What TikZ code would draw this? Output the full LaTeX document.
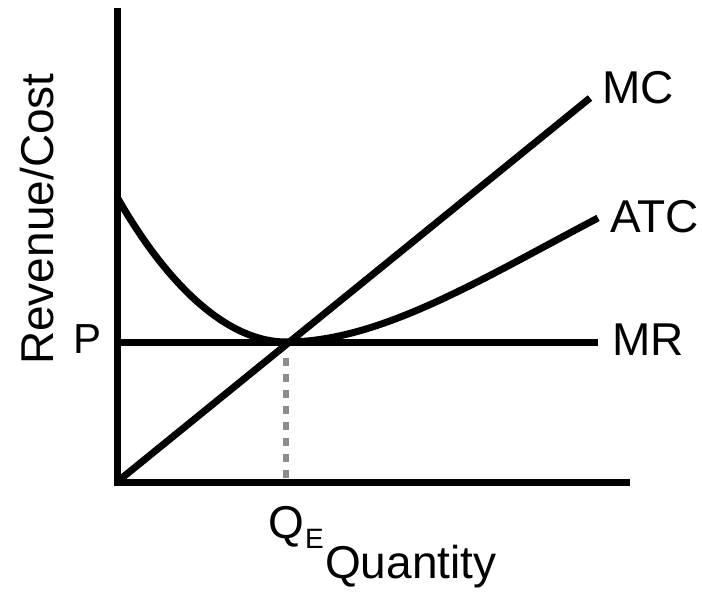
\documentclass[tikz,border=0pt]{standalone}
\usepackage{fontspec}
\setmainfont{Liberation Sans}
\begin{document}
\begin{tikzpicture}[x=1pt,y=-1pt,
  curve/.style={line width=7pt,black},
  guide/.style={line width=6pt,color=gray!90,dash pattern=on 8pt off 8pt},
  lab/.style={inner sep=0pt,anchor=base west,font=\fontsize{46}{50}\selectfont},
  sublab/.style={inner sep=0pt,anchor=base west,font=\fontsize{28}{30}\selectfont}]
\useasboundingbox (0,0) rectangle (702,592);
\coordinate (O) at (117,482);
\coordinate (ytop) at (117,11);
\coordinate (xend) at (626,482);
\coordinate (Pl) at (117,342);
\coordinate (Pr) at (598,342);
\coordinate (MCend) at (590,98);
\coordinate (Eq) at (286,342);
\coordinate (ATCs) at (117,197);
\coordinate (ATCe) at (598,218);
\coordinate (Dt) at (286,358);
\coordinate (Db) at (286,480);
% dotted guide
\draw[guide] (Dt) -- (Db);
% axes
\draw[curve,line cap=rect] (ytop) -- (O) -- (xend);
% MR
\draw[curve] (Pl) -- (Pr);
% MC
\draw[curve] (O) -- (MCend);
% ATC
\draw[curve] (ATCs) .. controls (170,290) and (230,342) .. (Eq)
  .. controls (380,342) and (480,280) .. (ATCe);
% labels
\node[lab] (mc) at (602,103) {MC};
\node[lab] (atc) at (610,232) {ATC};
\node[lab] (mr) at (612,355) {MR};
\node[lab,font=\fontsize{42}{46}\selectfont] (p) at (73,353) {P};
\node[lab] (q) at (268,538) {Q};
\node[sublab] (e) at (305,548) {E};
\node[lab] (qty) at (325,578) {Quantity};
\node[lab,rotate=90] (rc) at (53,365) {Revenue/Cost};
\end{tikzpicture}
\end{document}
